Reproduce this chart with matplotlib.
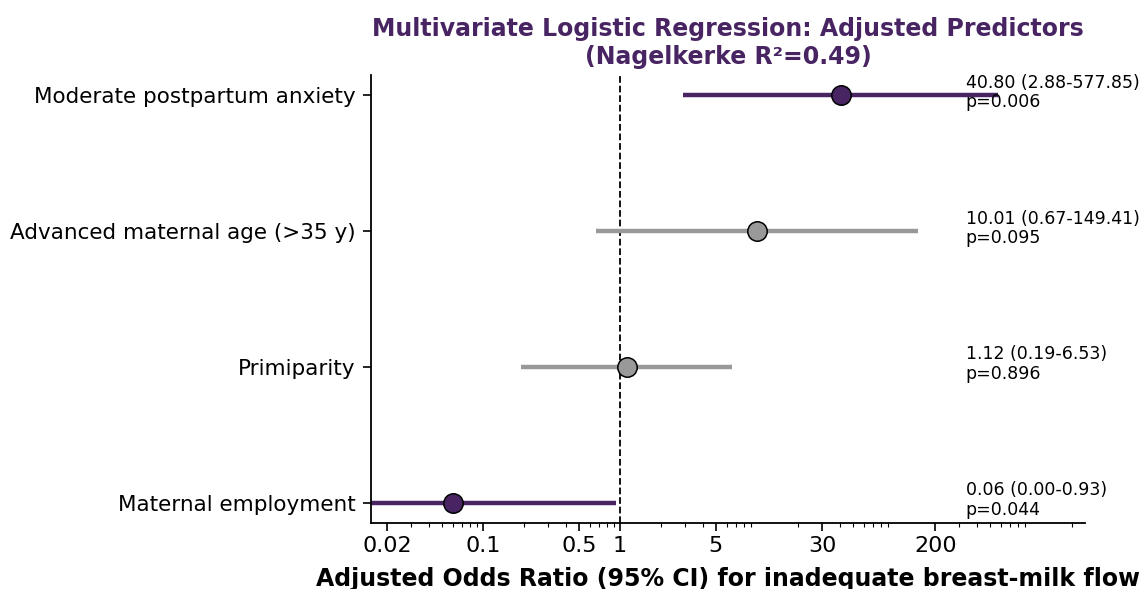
import numpy as np
import matplotlib
matplotlib.use("Agg")
import matplotlib.pyplot as plt
from matplotlib.ticker import FixedLocator, FixedFormatter
import matplotlib.transforms as mtransforms

# predictors, bottom to top
predictors = ["Maternal employment", "Primiparity",
              "Advanced maternal age (>35 y)", "Moderate postpartum anxiety"]
odds_ratio = [0.06, 1.12, 10.01, 40.80]
ci_low = [0.004, 0.19, 0.67, 2.88]
ci_high = [0.93, 6.53, 149.41, 577.85]
ci_low_txt = ["0.00", "0.19", "0.67", "2.88"]
p_values = [0.044, 0.896, 0.095, 0.006]

xticks = [0.02, 0.1, 0.5, 1, 5, 30, 200]
xtick_labels = ["0.02", "0.1", "0.5", "1", "5", "30", "200"]

PURPLE = "#482463"
GREY = "#999999"

fig = plt.figure(figsize=(11.4, 5.89), dpi=100)
ax = fig.add_axes([0.3254, 0.1121, 0.6263, 0.7606])

ypos = np.arange(len(predictors))
for i, y in enumerate(ypos):
    col = PURPLE if p_values[i] < 0.05 else GREY
    ax.plot([ci_low[i], ci_high[i]], [y, y], color=col, lw=3.2,
            solid_capstyle="butt", zorder=2)
    ax.plot(odds_ratio[i], y, "o", ms=14, mfc=col, mec="black", mew=1.1, zorder=3)

ax.axvline(1, color="black", ls="--", lw=1.3, zorder=1)

ax.set_xscale("log")
ax.set_xlim(0.0152, 2470)
ax.set_ylim(-0.15, 3.15)

ax.xaxis.set_major_locator(FixedLocator(xticks))
ax.xaxis.set_major_formatter(FixedFormatter(xtick_labels))
ax.tick_params(axis="x", labelsize=16, length=6, width=1.2)
ax.tick_params(axis="x", which="minor", length=3, width=0.8)
ax.set_yticks(ypos)
ax.set_yticklabels(predictors, fontsize=15.5)
ax.tick_params(axis="y", length=6, width=1.2, pad=5)

for s in ["top", "right"]:
    ax.spines[s].set_visible(False)
for s in ["left", "bottom"]:
    ax.spines[s].set_linewidth(1.3)

trans = mtransforms.blended_transform_factory(ax.transAxes, ax.transData)
for i, y in enumerate(ypos):
    txt = f"{odds_ratio[i]:.2f} ({ci_low_txt[i]}-{ci_high[i]:.2f})\np={p_values[i]:.3f}"
    ax.text(0.833, y + 0.02, txt, transform=trans, fontsize=12.5, va="center",
            ha="left", linespacing=1.1, clip_on=False)

ax.set_xlabel("Adjusted Odds Ratio (95% CI) for inadequate breast-milk flow",
              fontsize=17, fontweight="bold", labelpad=8)
ax.set_title("Multivariate Logistic Regression: Adjusted Predictors\n(Nagelkerke R²=0.49)",
             fontsize=17, fontweight="bold", color=PURPLE, pad=8)

fig.savefig("out.png", dpi=100)
